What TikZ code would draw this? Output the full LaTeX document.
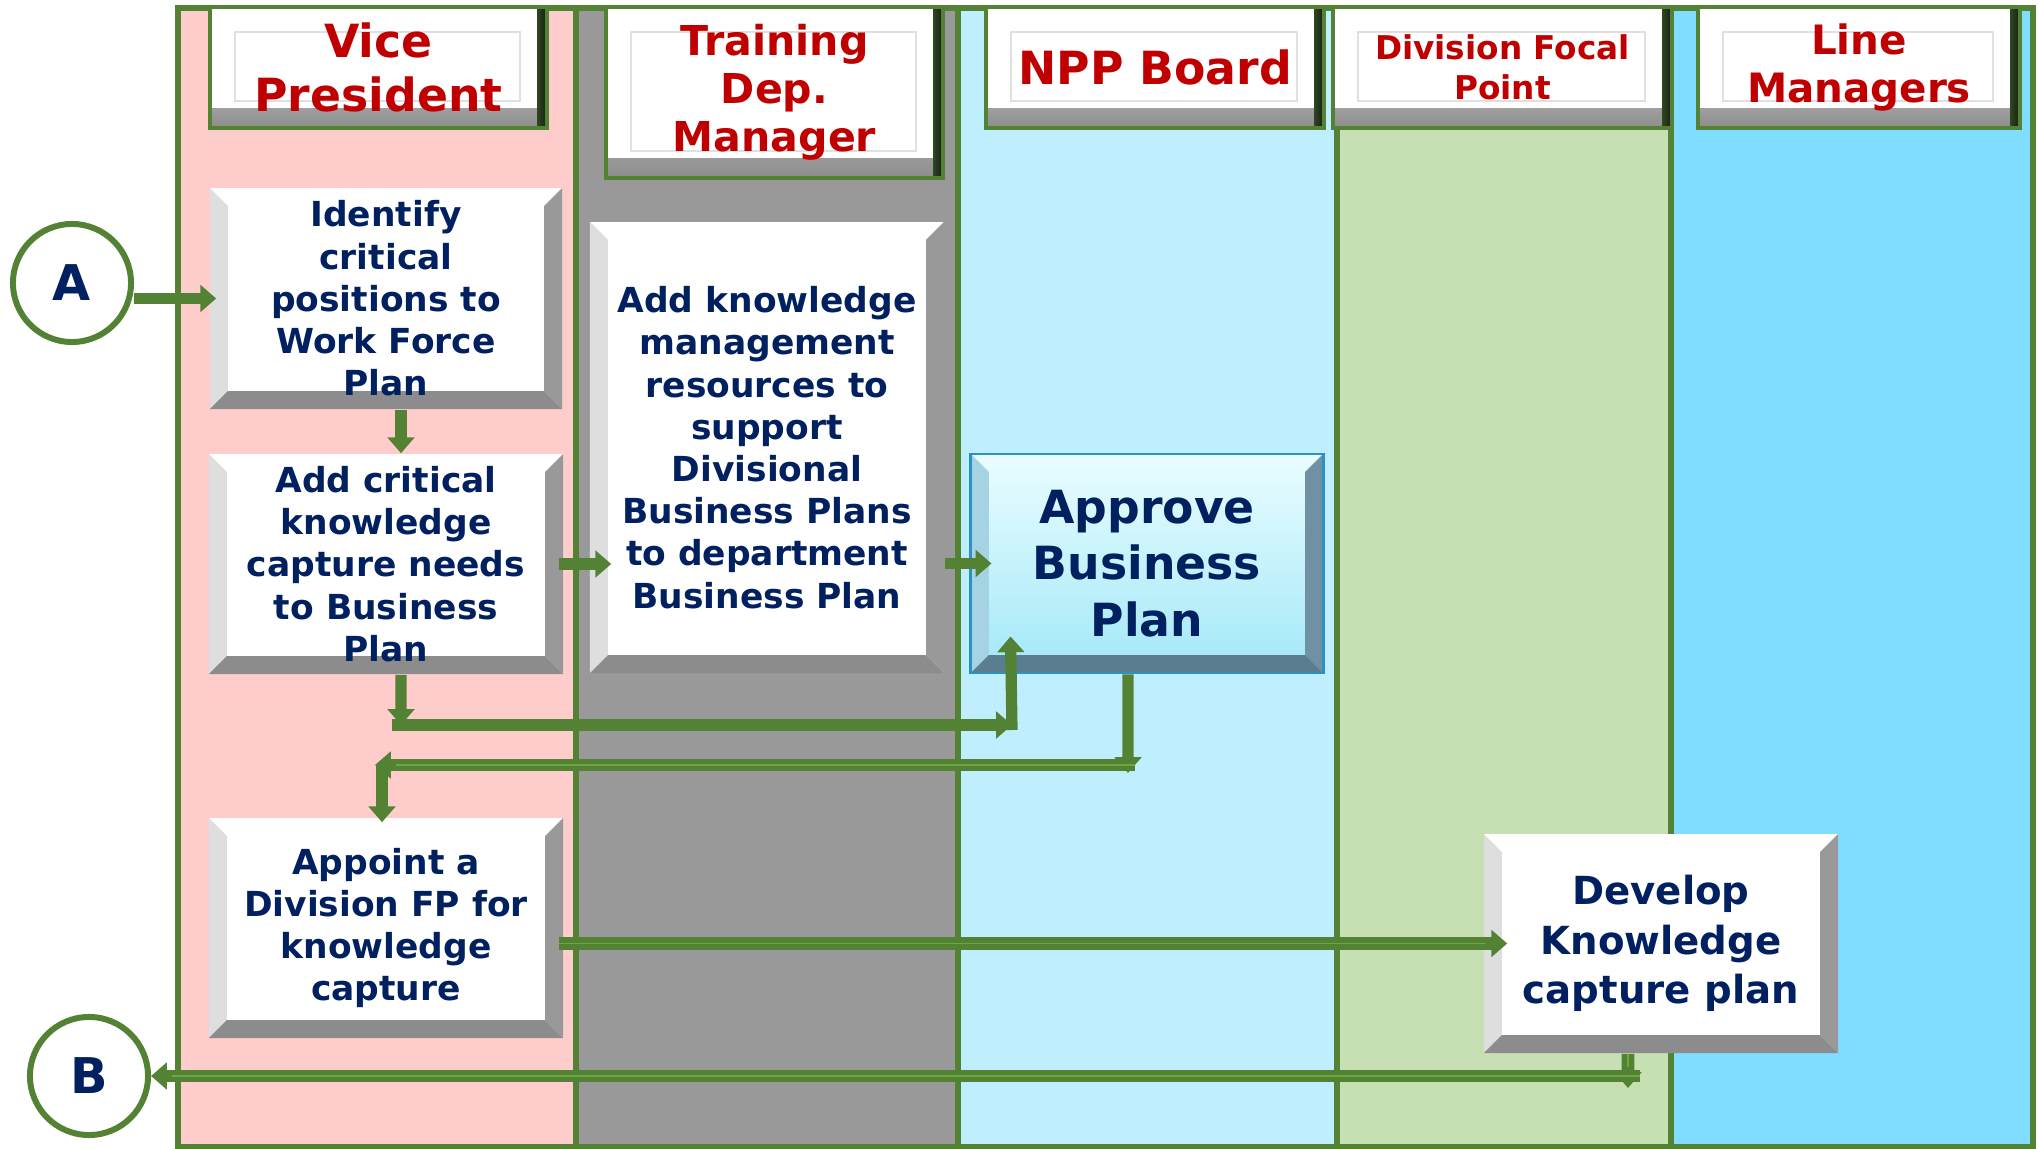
\documentclass[tikz,border=0pt]{standalone}
\usepackage{fontspec}
\setmainfont{DejaVu Sans}
\usetikzlibrary{arrows.meta}
\definecolor{laneGreen}{HTML}{548235}
\definecolor{flowGreen}{HTML}{548235}
\definecolor{stripeGreen}{HTML}{6CA744}
\definecolor{vpPink}{HTML}{FFCCCC}
\definecolor{tdGray}{HTML}{999999}
\definecolor{npBlue}{HTML}{BFEFFF}
\definecolor{dfGreen}{HTML}{C6E0B4}
\definecolor{lmCyan}{HTML}{80DDFF}
\definecolor{titleRed}{HTML}{C00000}
\definecolor{stepNavy}{HTML}{002060}
\definecolor{approveTop}{HTML}{EAFDFF}
\definecolor{approveBot}{HTML}{A2E8F8}
\definecolor{approveEdge}{HTML}{2A91C2}
\definecolor{approveLeft}{HTML}{A6D3E3}
\definecolor{approveRight}{HTML}{7090A3}
\definecolor{approveBase}{HTML}{5B7D90}
\begin{document}
\begin{tikzpicture}[x=0.01cm,y=-0.01cm,
	lanehead/.style={rectangle,inner sep=0pt,fill=white,draw=laneGreen,line width=1.3pt,text=titleRed,align=center,
		path picture={
			\shade[top color=white,bottom color=black!45] ([yshift=0.2cm]path picture bounding box.south west) rectangle (path picture bounding box.south east);
			\shade[left color=laneGreen!55!black,right color=black!90] ([xshift=-0.1cm]path picture bounding box.north east) rectangle (path picture bounding box.south east);
			\draw[black!12,line width=0.7pt] ([shift={(0.25cm,-0.25cm)}]path picture bounding box.north west) rectangle ([shift={(-0.27cm,0.27cm)}]path picture bounding box.south east);
		}},
	bevelled/.style n args={3}{path picture={
			\fill[#1] (path picture bounding box.south west) -- (path picture bounding box.north west) -- ([shift={(0.18cm,-0.18cm)}]path picture bounding box.north west) -- ([shift={(0.18cm,0.18cm)}]path picture bounding box.south west) -- cycle;
			\fill[#2] (path picture bounding box.south east) -- (path picture bounding box.north east) -- ([shift={(-0.18cm,-0.18cm)}]path picture bounding box.north east) -- ([shift={(-0.18cm,0.18cm)}]path picture bounding box.south east) -- cycle;
			\fill[#3] (path picture bounding box.south west) -- (path picture bounding box.south east) -- ([shift={(-0.18cm,0.18cm)}]path picture bounding box.south east) -- ([shift={(0.18cm,0.18cm)}]path picture bounding box.south west) -- cycle;
		}},
	stepbox/.style={rectangle,inner sep=0pt,fill=white,text=stepNavy,align=center,font=\bfseries\fontsize{9.8}{12}\selectfont,bevelled={black!13}{black!40}{black!45}},
	flow/.style={draw=flowGreen,line width=3.2pt,-{Triangle[width=7.5pt,length=4.5pt]}},
	stripe/.style={line width=3.6pt,postaction={draw=stripeGreen,line width=0.55pt,-,shorten >=6pt}},
	offpage/.style={circle,draw=laneGreen,line width=1.7pt,fill=white,minimum size=1.18cm,inner sep=0pt,text=stepNavy,font=\bfseries\fontsize{14}{14}\selectfont}]
	\useasboundingbox (0,0) rectangle (2038,1149);
		\fill[vpPink] (178,8) rectangle (576,1147);
		\fill[tdGray] (576,8) rectangle (958,1147);
		\fill[npBlue] (958,8) rectangle (1337,1147);
		\fill[dfGreen] (1337,8) rectangle (1671,1147);
		\fill[lmCyan] (1671,8) rectangle (2033,1147);
		\draw[laneGreen,line width=1.7pt] (178,8) rectangle (2033,1147);
		\foreach \x in {576,958,1337,1671} \draw[laneGreen,line width=1.7pt] (\x,8) -- (\x,1147);
		\node[lanehead,minimum width=3.37cm,minimum height=1.21cm,font=\bfseries\fontsize{13}{15.6}\selectfont] (vph) at (378.5,67.5) {Vice\\President};
		\node[lanehead,minimum width=3.37cm,minimum height=1.71cm,font=\bfseries\fontsize{11.7}{13.7}\selectfont] (tdh) at (774.5,92.5) {Training\\Dep.\\Manager};
		\node[lanehead,minimum width=3.38cm,minimum height=1.21cm,font=\bfseries\fontsize{13}{15.6}\selectfont] (nph) at (1155,67.5) {NPP Board};
		\node[lanehead,minimum width=3.39cm,minimum height=1.21cm,font=\bfseries\fontsize{9.3}{11.5}\selectfont] (dfh) at (1502.5,67.5) {Division Focal\\Point};
		\node[lanehead,minimum width=3.22cm,minimum height=1.21cm,font=\bfseries\fontsize{11.5}{13.6}\selectfont] (lmh) at (1859,67.5) {Line\\Managers};
		\node[stepbox,minimum width=3.52cm,minimum height=2.21cm] (identify) at (386,298.5) {Identify\\critical\\positions to\\Work Force\\Plan};
		\node[stepbox,minimum width=3.54cm,minimum height=2.2cm] (addcrit) at (386,564) {Add critical\\knowledge\\capture needs\\to Business\\Plan};
		\node[stepbox,minimum width=3.54cm,minimum height=4.51cm] (addkm) at (767,447.5) {Add knowledge\\management\\resources to\\support\\Divisional\\Business Plans\\to department\\Business Plan};
		\node[stepbox,minimum width=3.52cm,minimum height=2.19cm,top color=approveTop,bottom color=approveBot,draw=approveEdge,line width=0.8pt,bevelled={approveLeft}{approveRight}{approveBase},font=\bfseries\fontsize{13}{16}\selectfont] (approve) at (1147,563.5) {Approve\\Business\\Plan};
		\node[stepbox,minimum width=3.54cm,minimum height=2.2cm] (appoint) at (386,928) {Appoint a\\Division FP for\\knowledge\\capture};
		\node[stepbox,minimum width=3.54cm,minimum height=2.19cm,font=\bfseries\fontsize{11}{14}\selectfont] (develop) at (1661,943.5) {Develop\\Knowledge\\capture plan};
		\node[offpage] (circA) at (72,283) {A};
		\node[offpage] (circB) at (89,1076) {B};
		\draw[flow] (circA.east |- identify.west) -- ([xshift=0.07cm]identify.west);
		\draw[flow] ([xshift=0.15cm]identify.south) -- ([xshift=0.15cm]addcrit.north);
		\draw[flow] ([xshift=-0.05cm]addcrit.east) -- ([xshift=0.22cm]addcrit.east -| addkm.west);
		\draw[flow] (addkm.east |- approve.west) -- ([xshift=0.22cm]approve.west);
		\coordinate (bendA) at (401,725);
		\coordinate (bendB) at (1012,725);
		\draw[flow] ([xshift=0.15cm]addcrit.south) -- (bendA);
		\draw[flow] ([xshift=-0.09cm]bendA) -- (bendB);
		\draw[flow] ([yshift=-0.05cm]bendB) -- ([shift={(0.41cm,0.38cm)}]approve.south west);
		\coordinate (bendC) at (1128,765);
		\coordinate (bendD) at (382,765);
		\coordinate (appIn) at (appoint.north -| bendD);
		\draw[flow] ([xshift=-0.19cm]approve.south) -- ([yshift=-0.08cm]bendC);
		\draw[flow,stripe] ([xshift=0.07cm]bendC) -- ([xshift=-0.07cm]bendD);
		\draw[flow] (bendD) -- ([yshift=-0.05cm]appIn);
		\draw[flow,stripe] ([xshift=-0.05cm]appoint.east |- develop.west) -- ([xshift=0.24cm]develop.west);
		\coordinate (bendE) at (1628,1076);
		\draw[flow,stripe] ([xshift=-0.33cm]develop.south) -- ([yshift=-0.12cm]bendE);
		\draw[flow,stripe] ([xshift=0.12cm]bendE) -- (circB.east);
	\end{tikzpicture}
\end{document}
